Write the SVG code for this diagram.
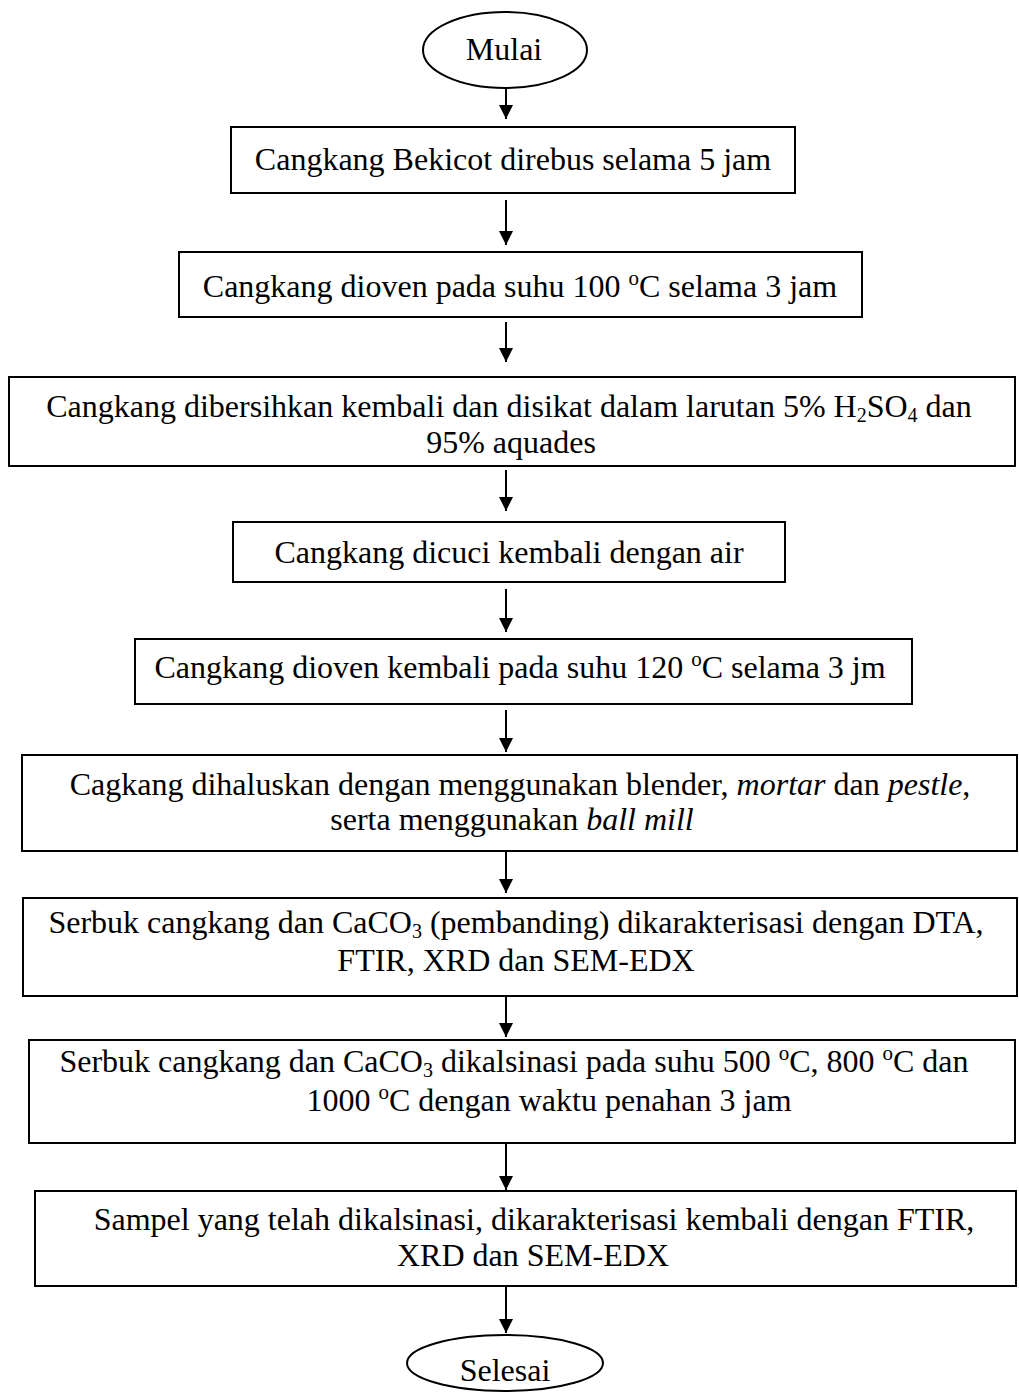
<svg xmlns="http://www.w3.org/2000/svg" width="1019" height="1398" viewBox="0 0 1019 1398">
<style>
  .box { fill: #fff; stroke: #000; stroke-width: 2; }
  .term { fill: #fff; stroke: #000; stroke-width: 2; }
  .conn { stroke: #000; stroke-width: 2; fill: none; marker-end: url(#arr); }
  text { font-family: "Liberation Serif", "Times New Roman", serif; font-size: 32px; fill: #000; text-anchor: middle; }
  .sup { font-size: 21px; }
  .sub { font-size: 20px; }
</style>
<defs>
  <marker id="arr" viewBox="0 0 14 14" refX="14" refY="7" markerWidth="14" markerHeight="14" markerUnits="userSpaceOnUse" orient="auto">
    <path d="M0,0 L14,7 L0,14 Z" fill="#000"/>
  </marker>
</defs>
<rect width="1019" height="1398" fill="#fff"/>
<g id="connectors">
  <line class="conn" x1="506" y1="89" x2="506" y2="119"/>
  <line class="conn" x1="506" y1="200" x2="506" y2="245"/>
  <line class="conn" x1="506" y1="322" x2="506" y2="362"/>
  <line class="conn" x1="506" y1="470" x2="506" y2="511"/>
  <line class="conn" x1="506" y1="589" x2="506" y2="632"/>
  <line class="conn" x1="506" y1="710" x2="506" y2="752"/>
  <line class="conn" x1="506" y1="851" x2="506" y2="893"/>
  <line class="conn" x1="506" y1="996" x2="506" y2="1037"/>
  <line class="conn" x1="506" y1="1143" x2="506" y2="1190"/>
  <line class="conn" x1="506" y1="1286" x2="506" y2="1333"/>
</g>
<g id="mulai">
  <ellipse class="term" cx="505" cy="50" rx="82" ry="38"/>
  <text x="504" y="60">Mulai</text>
</g>
<g id="step1">
  <rect class="box" x="231" y="127" width="564" height="66"/>
  <text x="513" y="170">Cangkang Bekicot direbus selama 5 jam</text>
</g>
<g id="step2">
  <rect class="box" x="179" y="252" width="683" height="65"/>
  <text x="520" y="297">Cangkang dioven pada suhu 100 <tspan class="sup" dy="-12">o</tspan><tspan dy="12">C selama 3 jam</tspan></text>
</g>
<g id="step3">
  <rect class="box" x="9" y="377" width="1006" height="89"/>
  <text x="509" y="417">Cangkang dibersihkan kembali dan disikat dalam larutan 5% H<tspan class="sub" dy="5">2</tspan><tspan dy="-5">SO</tspan><tspan class="sub" dy="5">4</tspan><tspan dy="-5"> dan</tspan></text>
  <text x="511" y="453">95% aquades</text>
</g>
<g id="step4">
  <rect class="box" x="233" y="522" width="552" height="60"/>
  <text x="509" y="563">Cangkang dicuci kembali dengan air</text>
</g>
<g id="step5">
  <rect class="box" x="135" y="639" width="777" height="65"/>
  <text x="520" y="678">Cangkang dioven kembali pada suhu 120 <tspan class="sup" dy="-12">o</tspan><tspan dy="12">C selama 3 jm</tspan></text>
</g>
<g id="step6">
  <rect class="box" x="22" y="755" width="995" height="96"/>
  <text x="520" y="795">Cagkang dihaluskan dengan menggunakan blender, <tspan font-style="italic">mortar</tspan> dan <tspan font-style="italic">pestle</tspan>,</text>
  <text x="512" y="830">serta menggunakan  <tspan font-style="italic">ball mill</tspan></text>
</g>
<g id="step7">
  <rect class="box" x="23" y="898" width="994" height="98"/>
  <text x="516" y="933">Serbuk cangkang dan CaCO<tspan class="sub" dy="5">3</tspan><tspan dy="-5"> (pembanding) dikarakterisasi dengan DTA,</tspan></text>
  <text x="516" y="971">FTIR, XRD dan SEM-EDX</text>
</g>
<g id="step8">
  <rect class="box" x="29" y="1040" width="986" height="103"/>
  <text x="514" y="1072">Serbuk cangkang dan CaCO<tspan class="sub" dy="5">3</tspan><tspan dy="-5"> dikalsinasi pada suhu 500 </tspan><tspan class="sup" dy="-12">o</tspan><tspan dy="12">C, 800 </tspan><tspan class="sup" dy="-12">o</tspan><tspan dy="12">C dan</tspan></text>
  <text x="549" y="1111">1000 <tspan class="sup" dy="-12">o</tspan><tspan dy="12">C dengan waktu penahan 3 jam</tspan></text>
</g>
<g id="step9">
  <rect class="box" x="35" y="1191" width="981" height="95"/>
  <text x="534" y="1230">Sampel yang telah dikalsinasi, dikarakterisasi kembali dengan FTIR,</text>
  <text x="533" y="1266">XRD dan SEM-EDX</text>
</g>
<g id="selesai">
  <ellipse class="term" cx="505" cy="1363" rx="98" ry="28"/>
  <text x="505" y="1381">Selesai</text>
</g>
</svg>
